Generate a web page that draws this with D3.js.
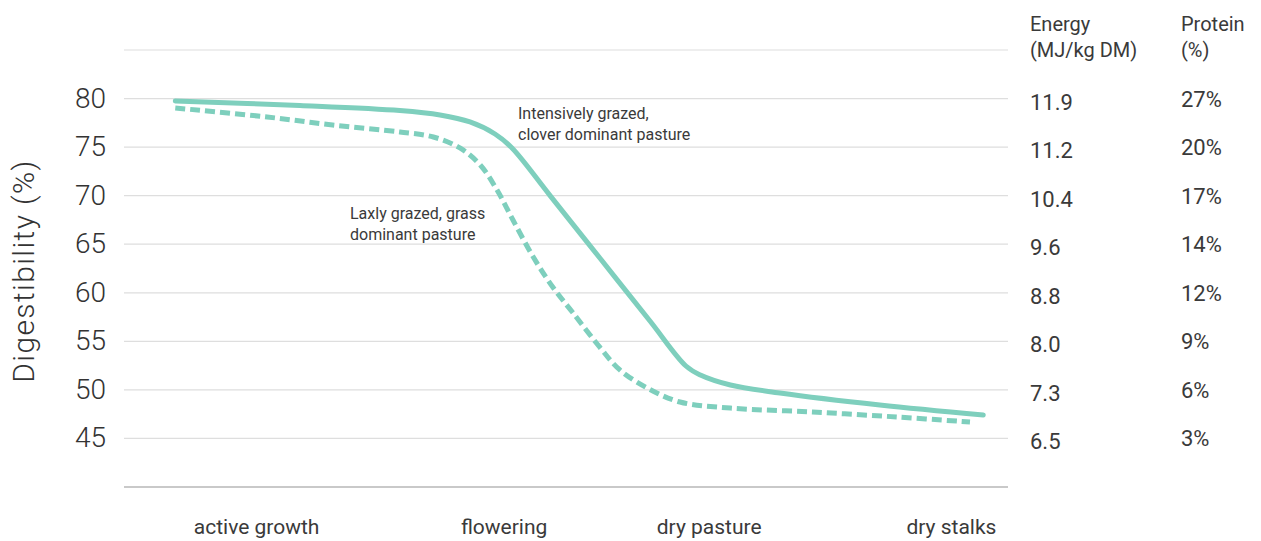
<!DOCTYPE html>
<html>
<head>
<meta charset="utf-8">
<script src="https://cdn.jsdelivr.net/npm/d3@7/dist/d3.min.js"></script>
<style>
  html, body { margin: 0; padding: 0; background: #fff; }
  svg { display: block; font-family: Roboto, "Open Sans", sans-serif; }
</style>
</head>
<body>
<svg id="chart" width="1261" height="541"></svg>
<script>
// ---- data ----
const digestibilityTicks = [80, 75, 70, 65, 60, 55, 50, 45];
const energyLabels = ["11.9", "11.2", "10.4", "9.6", "8.8", "8.0", "7.3", "6.5"];
const proteinLabels = ["27%", "20%", "17%", "14%", "12%", "9%", "6%", "3%"];
const categories = ["active growth", "flowering", "dry pasture", "dry stalks"];
const categoryProgress = [15.0, 43.0, 66.2, 93.6]; // season progress (0-100)

// Intensively grazed, clover dominant pasture (solid)
const intensiveProgress = [5.8, 19.9, 31.2, 35.75, 39.14, 41.97, 43.89, 48.2, 53.85, 59.5, 63.57, 65.2, 68.6, 74.2, 85.5, 97.2];
const intensiveDigest   = [79.75, 79.29, 78.77, 78.31, 77.59, 76.35, 74.91, 70.01, 63.55, 57.09, 52.46, 51.53, 50.50, 49.68, 48.44, 47.41];

// Laxly grazed, grass dominant pasture (dashed)
const laxProgress = [5.8, 16.2, 23.6, 31.2, 35.0, 38.0, 40.3, 42.2, 44.0, 46.3, 48.5, 50.8, 53.8, 56.1, 59.2, 62.9, 68.6, 77.9, 87.4, 95.7];
const laxDigest   = [79.03, 78.10, 77.28, 76.56, 76.04, 74.91, 73.16, 70.58, 67.49, 63.68, 60.59, 57.92, 54.42, 52.05, 50.19, 48.75, 48.13, 47.72, 47.21, 46.69];

const annotationIntensive = ["Intensively grazed,", "clover dominant pasture"];
const annotationLax = ["Laxly grazed, grass", "dominant pasture"];

// ---- layout ----
const svg = d3.select("#chart");
const x = d3.scaleLinear().domain([0, 100]).range([124, 1008]);
const y = d3.scaleLinear().domain([40, 85]).range([487, 50]);
const lineColor = "#7ecfbd";
const textColor = "#3a3a3a";

// gridlines
const gridVals = [85].concat(digestibilityTicks);
svg.append("g").selectAll("line").data(gridVals).join("line")
  .attr("x1", x(0)).attr("x2", x(100))
  .attr("y1", d => y(d)).attr("y2", d => y(d))
  .attr("stroke", "#dedede").attr("stroke-width", 1.2);

// bottom axis line
svg.append("line")
  .attr("x1", x(0)).attr("x2", x(100))
  .attr("y1", y(40)).attr("y2", y(40))
  .attr("stroke", "#c9c9c9").attr("stroke-width", 2);

// left tick labels
svg.append("g").selectAll("text").data(digestibilityTicks).join("text")
  .attr("x", 106).attr("y", d => y(d) + 9)
  .attr("text-anchor", "end")
  .attr("font-size", 28).attr("font-weight", 300)
  .attr("fill", "#333")
  .text(d => d);

// y title
svg.append("text")
  .attr("transform", `translate(34, ${271}) rotate(-90)`)
  .attr("text-anchor", "middle")
  .attr("font-size", 30).attr("font-weight", 300)
  .attr("letter-spacing", 1.4)
  .attr("fill", "#333")
  .text("Digestibility (%)");

// right headers
const rightHead = svg.append("g").attr("fill", textColor).attr("font-size", 20);
rightHead.append("text").attr("x", 1030).attr("y", 31).text("Energy");
rightHead.append("text").attr("x", 1030).attr("y", 57).text("(MJ/kg DM)");
rightHead.append("text").attr("x", 1181).attr("y", 31).text("Protein");
rightHead.append("text").attr("x", 1181).attr("y", 57).text("(%)");

// right value labels
svg.append("g").selectAll("text").data(digestibilityTicks).join("text")
  .attr("x", 1030).attr("y", d => y(d) + 11)
  .attr("font-size", 22).attr("fill", textColor)
  .text((d, i) => energyLabels[i]);
svg.append("g").selectAll("text").data(digestibilityTicks).join("text")
  .attr("x", 1181).attr("y", d => y(d) + 8)
  .attr("font-size", 22).attr("fill", textColor)
  .text((d, i) => proteinLabels[i]);

// category labels
svg.append("g").selectAll("text").data(categories).join("text")
  .attr("x", (d, i) => x(categoryProgress[i])).attr("y", 534)
  .attr("text-anchor", "middle")
  .attr("font-size", 21).attr("fill", textColor)
  .text(d => d);

// lines
const line = d3.line().x(d => x(d[0])).y(d => y(d[1])).curve(d3.curveCatmullRom.alpha(0.5));
svg.append("path")
  .datum(laxProgress.map((p, i) => [p, laxDigest[i]]))
  .attr("d", line).attr("fill", "none")
  .attr("stroke", lineColor).attr("stroke-width", 5)
  .attr("stroke-dasharray", "10,5");
svg.append("path")
  .datum(intensiveProgress.map((p, i) => [p, intensiveDigest[i]]))
  .attr("d", line).attr("fill", "none")
  .attr("stroke", lineColor).attr("stroke-width", 5)
  .attr("stroke-linecap", "round").attr("stroke-linejoin", "round");

// annotations
svg.append("g").selectAll("text").data(annotationIntensive).join("text")
  .attr("x", 518).attr("y", (d, i) => 119 + i * 21)
  .attr("font-size", 16).attr("fill", textColor)
  .text(d => d);
svg.append("g").selectAll("text").data(annotationLax).join("text")
  .attr("x", 350).attr("y", (d, i) => 219 + i * 21)
  .attr("font-size", 16).attr("fill", textColor)
  .text(d => d);
</script>
</body>
</html>
